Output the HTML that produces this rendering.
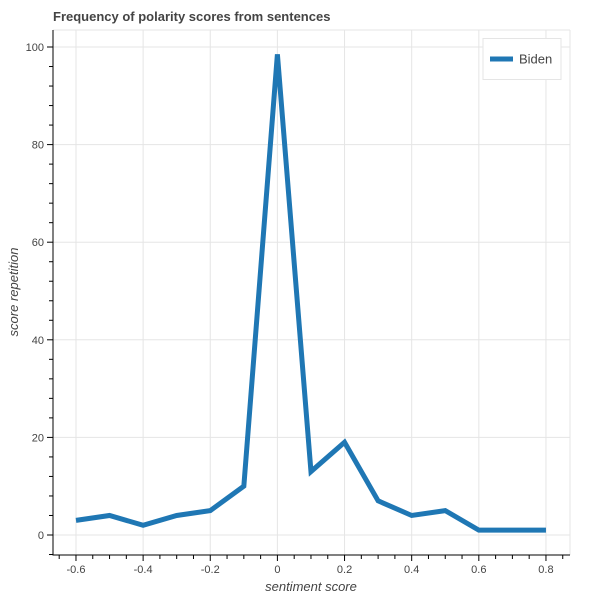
<!DOCTYPE html>
<html><head><meta charset="utf-8"><style>
body{margin:0;background:#fff;}
svg{display:block;font-family:"Liberation Sans",Arial,sans-serif;}
</style></head><body>
<svg id="chart" width="600" height="600">
<text x="53" y="21" font-size="13" font-weight="bold" fill="#444">Frequency of polarity scores from sentences</text>
<g id="grid"></g>
<g id="axes"></g>
<g id="series"></g>
<text x="311" y="591" font-size="13" font-style="italic" fill="#444" text-anchor="middle">sentiment score</text>
<text transform="translate(18,292) rotate(-90)" font-size="13" font-style="italic" fill="#444" text-anchor="middle">score repetition</text>
<g>
<rect x="483" y="38.5" width="78" height="41" fill="#fff" stroke="#e5e5e5"/>
<line x1="490" y1="59" x2="513" y2="59" stroke="#1f77b4" stroke-width="5"/>
<text x="519" y="63.5" font-size="13" fill="#444">Biden</text>
</g>
</svg>
<script>
const xs=[-0.6,-0.5,-0.4,-0.3,-0.2,-0.1,0,0.1,0.2,0.3,0.4,0.5,0.6,0.7,0.8];
const counts=[3,4,2,4,5,10,98.5,13,19,7,4,5,1,1,1];
const xTicks=[-0.6,-0.4,-0.2,0,0.2,0.4,0.6,0.8];
const xTickLabels=["-0.6","-0.4","-0.2","0","0.2","0.4","0.6","0.8"];
const yTicks=[0,20,40,60,80,100];
const yTickLabels=["0","20","40","60","80","100"];
const NS="http://www.w3.org/2000/svg";
const L=53,R=570,T=30,B=555;
const X=v=>277.4+v*335.7;
const Y=v=>535-v*4.88;
function mk(p,tag,at){const e=document.createElementNS(NS,tag);for(const k in at)e.setAttribute(k,at[k]);p.appendChild(e);return e;}
const grid=document.getElementById('grid'),axes=document.getElementById('axes'),series=document.getElementById('series');
xTicks.forEach(v=>{const g=mk(grid,'line',{x1:X(v),x2:X(v),y1:T,y2:B,stroke:'#e5e5e5'});

});
yTicks.forEach(v=>{const g=mk(grid,'line',{x1:L,x2:R,y1:Y(v),y2:Y(v),stroke:'#e5e5e5'});

});
mk(grid,'line',{x1:R,x2:R,y1:T,y2:B,stroke:'#e5e5e5'});
mk(grid,'line',{x1:L,x2:R,y1:T,y2:T,stroke:'#e5e5e5'});
mk(axes,'line',{x1:L,x2:L,y1:T,y2:B+0.5,stroke:'#000'});
mk(axes,'line',{x1:L,x2:R,y1:B,y2:B,stroke:'#000'});
for(let v=-0.65;v<=0.86;v+=0.05){const px=X(v);if(px<L||px>R)continue;const major=xTicks.some(t=>Math.abs(t-v)<1e-6);mk(axes,'line',{x1:px,x2:px,y1:B,y2:B+(major?6:4),stroke:'#000'});}
for(let v=-4;v<=104;v+=4){const py=Y(v);if(py<T||py>B)continue;const major=v%20===0;mk(axes,'line',{x1:L-(major?6:4),x2:L,y1:py,y2:py,stroke:'#000'});}
xTicks.forEach((v,i)=>{const t=mk(axes,'text',{x:X(v),y:B+18,'font-size':11,fill:'#444','text-anchor':'middle'});t.textContent=xTickLabels[i];

});
yTicks.forEach((v,i)=>{const t=mk(axes,'text',{x:L-9,y:Y(v)+4,'font-size':11,fill:'#444','text-anchor':'end'});t.textContent=yTickLabels[i];

});
const line=mk(series,'polyline',{points:xs.map((x,i)=>X(x)+','+Y(counts[i])).join(' '),fill:'none',stroke:'#1f77b4','stroke-width':5,'stroke-linejoin':'miter'});


</script>
</body></html>
